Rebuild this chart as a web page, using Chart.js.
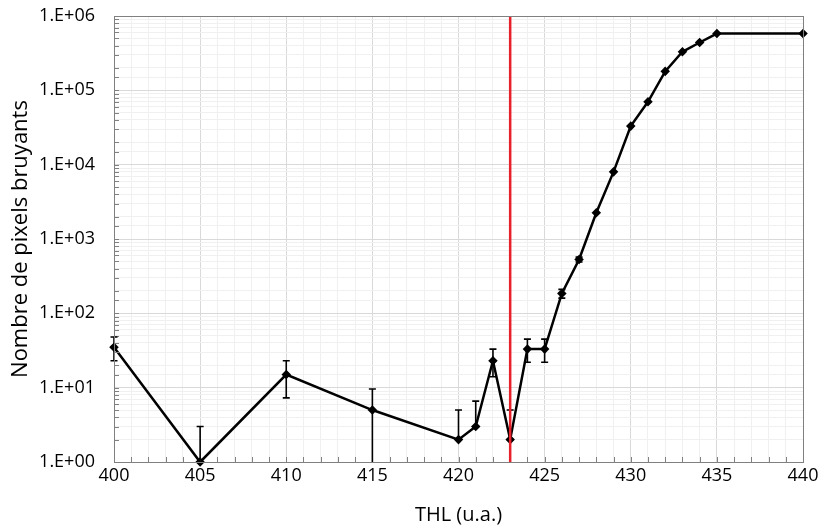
<!DOCTYPE html>
<html>
<head>
<meta charset="utf-8">
<script src="https://cdn.jsdelivr.net/npm/chart.js@4"></script>
<style>
  html, body { margin: 0; padding: 0; background: #fff; }
  #wrap { width: 822px; height: 531px; }
</style>
</head>
<body>
<div id="wrap"><canvas id="thlChart" width="822" height="531"></canvas></div>
<script>
// THL scan: noisy pixel count vs threshold
const thl = [400, 405, 410, 415, 420, 421, 422, 423, 424, 425, 426, 427, 428, 429, 430, 431, 432, 433, 434, 435, 440];
const pixels = [35, 1, 15, 5, 2, 3, 23, 2, 33, 33, 185, 530, 2250, 8000, 33000, 70000, 180000, 330000, 440000, 580000, 580000];
const errLow = [23, 0.5, 7.3, 0.5, 2, 3, 14, 2, 22, 22, 160, 490, null, null, null, null, null, null, null, null, null];
const errHigh = [48, 3, 23, 9.6, 5, 6.6, 33, 5, 45, 45, 210, 570, null, null, null, null, null, null, null, null, null];
const markerThl = 423;
const yTickLabels = ['1.E+00', '1.E+01', '1.E+02', '1.E+03', '1.E+04', '1.E+05', '1.E+06'];

const FONT = '"Open Sans", sans-serif';

function isDecade(v) {
  const l = Math.log10(v);
  return Math.abs(l - Math.round(l)) < 1e-9;
}

// error bars, inner tick marks, frame and threshold line
const extras = {
  id: 'extras',
  afterDatasetsDraw(chart) {
    const ctx = chart.ctx;
    const xs = chart.scales.x, ys = chart.scales.y;
    const area = chart.chartArea;
    ctx.save();

    // inner tick marks
    ctx.strokeStyle = '#808080';
    ctx.lineWidth = 1;
    ctx.beginPath();
    for (let v = 400; v <= 440; v++) {
      const px = Math.round(xs.getPixelForValue(v)) + 0.5;
      ctx.moveTo(px, area.bottom);
      ctx.lineTo(px, area.bottom - 5);
    }
    ys.ticks.forEach(t => {
      const py = Math.round(ys.getPixelForValue(t.value)) + 0.5;
      ctx.moveTo(area.left, py);
      ctx.lineTo(area.left + 5, py);
    });
    ctx.stroke();

    // error bars
    ctx.beginPath();
    ctx.rect(area.left - 10, area.top, area.right - area.left + 20, area.bottom - area.top);
    ctx.clip();
    ctx.strokeStyle = '#000';
    ctx.lineWidth = 1.6;
    ctx.beginPath();
    thl.forEach((v, i) => {
      if (errHigh[i] == null) return;
      const px = xs.getPixelForValue(v);
      const yHi = ys.getPixelForValue(errHigh[i]);
      const yLo = ys.getPixelForValue(errLow[i]);
      ctx.moveTo(px, yHi);
      ctx.lineTo(px, yLo);
      ctx.moveTo(px - 3.5, yHi);
      ctx.lineTo(px + 3.5, yHi);
      if (yLo < area.bottom) {
        ctx.moveTo(px - 3.5, yLo);
        ctx.lineTo(px + 3.5, yLo);
      }
    });
    ctx.stroke();

    // threshold line
    const mx = xs.getPixelForValue(markerThl);
    ctx.strokeStyle = '#e8202a';
    ctx.lineWidth = 2.5;
    ctx.beginPath();
    ctx.moveTo(mx, area.top);
    ctx.lineTo(mx, area.bottom);
    ctx.stroke();
    ctx.restore();

    // frame
    ctx.save();
    ctx.strokeStyle = '#808080';
    ctx.lineWidth = 1;
    ctx.strokeRect(Math.round(area.left) + 0.5, Math.round(area.top) + 0.5,
      Math.round(area.right - area.left), Math.round(area.bottom - area.top));
    ctx.restore();
  }
};

const ctx = document.getElementById('thlChart').getContext('2d');
new Chart(ctx, {
  type: 'line',
  data: {
    datasets: [{
      data: thl.map((v, i) => ({ x: v, y: pixels[i] })),
      borderColor: '#000',
      backgroundColor: '#000',
      borderWidth: 2.5,
      pointStyle: 'rectRot',
      pointRadius: 3,
      pointBackgroundColor: '#000',
      tension: 0,
      clip: false
    }]
  },
  options: {
    responsive: false,
    animation: false,
    layout: { padding: { top: 16, right: 19, left: 0, bottom: 0 } },
    plugins: {
      legend: { display: false },
      tooltip: { enabled: false }
    },
    scales: {
      x: {
        type: 'linear',
        min: 400,
        max: 440,
        afterFit(scale) { scale.height = 69; },
        border: { display: true, color: '#808080' },
        grid: {
          drawTicks: false,
          color: c => (c.tick.value % 5 === 0 ? '#d9d9d9' : '#f0f0f0')
        },
        ticks: {
          stepSize: 1,
          autoSkip: false,
          maxRotation: 0,
          padding: 3,
          color: '#000',
          font: { family: FONT, size: 18 },
          callback: v => (v % 5 === 0 ? String(v) : '')
        },
        title: {
          display: true,
          text: 'THL (u.a.)',
          color: '#000',
          font: { family: FONT, size: 20 },
          padding: { top: 0 }
        }
      },
      y: {
        type: 'logarithmic',
        min: 1,
        max: 1e6,
        afterFit(scale) {
          scale.width = 114;
          scale.paddingTop = 0;
          scale.paddingBottom = 0;
        },
        border: { display: true, color: '#808080' },
        grid: {
          drawTicks: false,
          color: c => (isDecade(c.tick.value) ? '#d9d9d9' : '#f0f0f0')
        },
        ticks: {
          autoSkip: false,
          padding: 19,
          color: '#000',
          font: { family: FONT, size: 18 },
          callback: v => (isDecade(v) ? yTickLabels[Math.round(Math.log10(v))] : '')
        },
        title: {
          display: true,
          text: 'Nombre de pixels bruyants',
          color: '#000',
          font: { family: FONT, size: 22 },
          padding: { top: 8, bottom: 0 }
        }
      }
    }
  },
  plugins: [extras]
});
</script>
</body>
</html>
